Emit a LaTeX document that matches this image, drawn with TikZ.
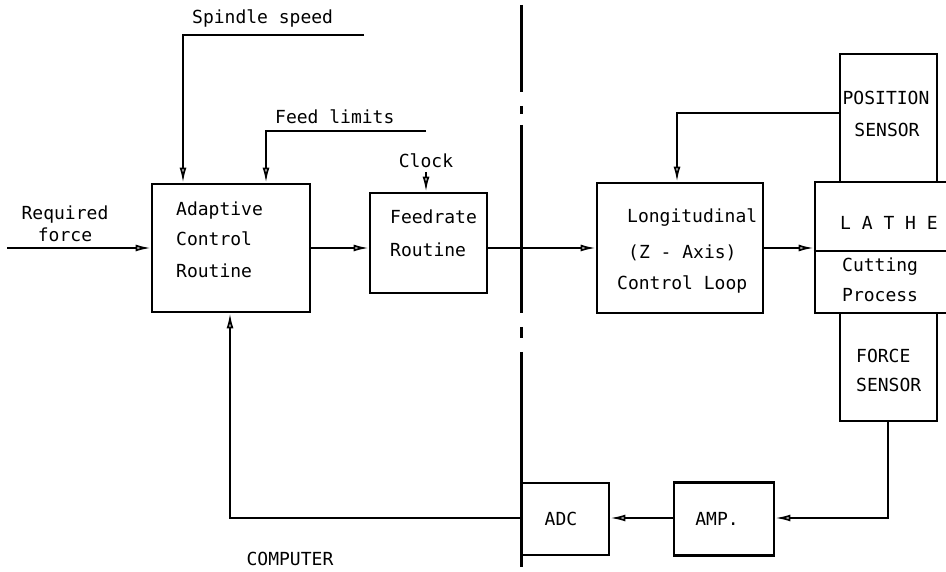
\documentclass[tikz,border=0pt]{standalone}
\usepackage{fontspec}
\newfontfamily\typewr{DejaVu Sans Mono}
\usetikzlibrary{arrows.meta}
\tikzset{
  lbl/.style={font=\typewr\fontsize{18}{21}\selectfont, inner sep=0pt},
  blk/.style={draw, line width=2.8pt, minimum width=#1, inner sep=0pt},
  wire/.style={line width=2.8pt},
  arr/.style={line width=2.8pt, -{Latex[open,length=15pt,width=7pt,line width=1.8pt]}},
}
\begin{document}
\begin{tikzpicture}[x=1pt,y=-1pt]
\clip (0,0) rectangle (946,572);
\fill[white] (0,0) rectangle (946,572);

% blocks
\node[blk=158, minimum height=128] (adapt) at (231,248) {};
\node[blk=117, minimum height=100] (feed) at (428.5,243) {};
\node[blk=166, minimum height=130] (long) at (680,248) {};
\node[blk=160, minimum height=131] (lathe) at (895,247.5) {};
\node[blk=97, minimum height=128] (pos) at (888.5,118) {};
\node[blk=97, minimum height=108] (force) at (888.5,367) {};
\node[blk=100, minimum height=73] (amp) at (724,519) {};
\node[blk=87, minimum height=72] (adc) at (565.5,519) {};
\draw[wire] (lathe.west |- 0,251) coordinate (divL) -- (lathe.east |- divL);

% block texts
\node[lbl, anchor=west] (t1) at (176,211) {Adaptive};
\node[lbl, anchor=west] (t2) at (176,239) {Control};
\node[lbl, anchor=west] (t3) at (176,271) {Routine};
\node[lbl, anchor=west] (t4) at (390,217) {Feedrate};
\node[lbl, anchor=west] (t5) at (390,250) {Routine};
\node[lbl, anchor=west] (t6) at (627,218) {Longitudinal};
\node[lbl, anchor=west] (t7) at (628,253) {(Z - Axis)};
\node[lbl, anchor=west] (t8) at (617,284) {Control Loop};
\node[lbl, anchor=west] (t9) at (840,223) {L A T H E};
\node[lbl, anchor=west] (t10) at (842,267) {Cutting};
\node[lbl, anchor=west] (t11) at (842,295) {Process};
\node[lbl] (t12) at (886,98) {POSITION};
\node[lbl] (t13) at (887,130) {SENSOR};
\node[lbl, anchor=west] (t14) at (856,356) {FORCE};
\node[lbl, anchor=west] (t15) at (856,385) {SENSOR};
\node[lbl] (t16) at (717,519) {AMP.};
\node[lbl] (t17) at (561,519) {ADC};

% signal labels
\node[lbl, anchor=west] (ss) at (192,18) {Spindle speed};
\node[lbl, anchor=west] (fl) at (275,117) {Feed limits};
\node[lbl] (ck) at (426,161) {Clock};
\node[lbl] (rq1) at (65,215) {Required};
\node[lbl] (rq2) at (65,235) {force};
\node[lbl] (cmp) at (290,559) {COMPUTER};

% free ends and bends
\coordinate (rfIn) at (7,248);
\coordinate (spEnd) at (364,35);
\coordinate (spBend) at (183,35);
\coordinate (flEnd) at (426,131);
\coordinate (flBend) at (266,131);
\coordinate (clk) at (426,172);
\coordinate (pBend) at (677,113);
\coordinate (fBend) at (888,518);
\coordinate (aBend) at (230,518);

% connectors
\draw[arr] (rfIn) -- (adapt.west);
\draw[arr] (spEnd) -- (spBend) -- (spBend |- adapt.north);
\draw[arr] (flEnd) -- (flBend) -- (flBend |- adapt.north);
\draw[arr] (adapt.east) -- (adapt.east -| feed.west);
\draw[arr] (clk) -- (clk |- feed.north);
\draw[arr] (feed.east |- adapt.east) -- (long.west);
\draw[arr] (long.east) -- (long.east -| lathe.west);
\draw[arr] (pos.west |- pBend) -- (pBend) -- (pBend |- long.north);
\draw[arr] (fBend |- force.south) -- (fBend) -- (fBend -| amp.east);
\draw[arr] (amp.west |- fBend) -- (adc.east |- fBend);
\draw[arr] (adc.west |- aBend) -- (aBend) -- (aBend |- adapt.south);

% computer boundary (dash-dot divider)
\draw[wire, line width=3pt] (521,5) -- (521,92);
\draw[wire, line width=3pt] (521,106) -- (521,114);
\draw[wire, line width=3pt] (521,125) -- (521,313);
\draw[wire, line width=3pt] (521,327) -- (521,338);
\draw[wire, line width=3pt] (521,352) -- (521,567);
\end{tikzpicture}
\end{document}
